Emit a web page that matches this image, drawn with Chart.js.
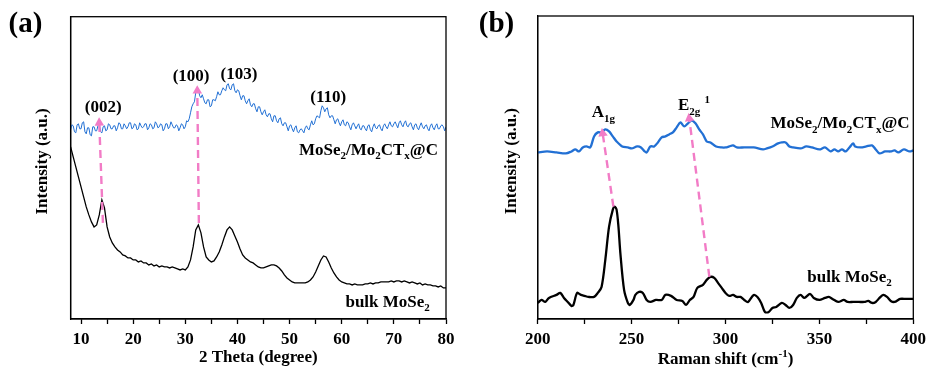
<!DOCTYPE html>
<html><head><meta charset="utf-8">
<script src="https://cdn.jsdelivr.net/npm/chart.js@4.4.1/dist/chart.umd.min.js"></script>
<style>
html,body{margin:0;padding:0;background:#fff;width:927px;height:372px;overflow:hidden}
#wa{position:absolute;left:0;top:0;width:463px;height:372px}
#wb{position:absolute;left:463px;top:0;width:464px;height:372px}
</style></head><body>
<div id="wa"><canvas id="ca" width="463" height="372"></canvas></div>
<div id="wb"><canvas id="cb" width="464" height="372"></canvas></div>
<script>
// ---------- DATA ----------
const xrdThetaFine = [
8,8.25,8.5,8.75,9,9.25,9.5,9.75,10,10.25,10.5,10.75,11,11.25,11.5,11.75,12,12.25,12.5,12.75,13,13.25,13.5,13.75,14,14.25,14.5,14.75,
15,15.25,15.5,15.75,16,16.25,16.5,16.75,17,17.25,17.5,17.75,18,18.25,18.5,18.75,19,19.25,19.5,19.75,20,20.25,20.5,20.75,21,21.25,21.5,21.75,
22,22.25,22.5,22.75,23,23.25,23.5,23.75,24,24.25,24.5,24.75,25,25.25,25.5,25.75,26,26.25,26.5,26.75,27,27.25,27.5,27.75,28,28.25,28.5,28.75,
29,29.25,29.5,29.75,30,30.25,30.5,30.75,31,31.25,31.5,31.75,32,32.25,32.5,32.75,33,33.25,33.5,33.75,34,34.25,34.5,34.75,35,35.25,35.5,35.75,
36,36.25,36.5,36.75,37,37.25,37.5,37.75,38,38.25,38.5,38.75,39,39.25,39.5,39.75,40,40.25,40.5,40.75,41,41.25,41.5,41.75,42,42.25,42.5,42.75,
43,43.25,43.5,43.75,44,44.25,44.5,44.75,45,45.25,45.5,45.75,46,46.25,46.5,46.75,47,47.25,47.5,47.75,48,48.25,48.5,48.75,49,49.25,49.5,49.75,
50,50.25,50.5,50.75,51,51.25,51.5,51.75,52,52.25,52.5,52.75,53,53.25,53.5,53.75,54,54.25,54.5,54.75,55,55.25,55.5,55.75,56,56.25,56.5,56.75,
57,57.25,57.5,57.75,58,58.25,58.5,58.75,59,59.25,59.5,59.75,60,60.25,60.5,60.75,61,61.25,61.5,61.75,62,62.25,62.5,62.75,63,63.25,63.5,63.75,
64,64.25,64.5,64.75,65,65.25,65.5,65.75,66,66.25,66.5,66.75,67,67.25,67.5,67.75,68,68.25,68.5,68.75,69,69.25,69.5,69.75,70,70.25,70.5,70.75,
71,71.25,71.5,71.75,72,72.25,72.5,72.75,73,73.25,73.5,73.75,74,74.25,74.5,74.75,75,75.25,75.5,75.75,76,76.25,76.5,76.75,77,77.25,77.5,77.75,
78,78.25,78.5,78.75,79,79.25,79.5,79.75,80];
const xrdComposite = [
189,194, 193,187, 186,194, 195,190, 190,196, 197,187, 185,191, 191,184, 183,192, 192,188,
188,193, 195,187, 186,192, 193,188, 189,195, 194,190, 190,193, 193,188, 191,196, 195,190,
190,195, 193,190, 192,196, 196,190, 191,195, 194,189, 190,196, 193,191, 192,195, 195,189,
191,195, 194,190, 191,197, 195,191, 192,195, 194,188, 190,195, 195,190, 192,197, 194,191,
191,194, 193,188, 191,195, 194,190, 192,198, 197,200, 206,212, 215,217, 226,231, 230,223,
221,224, 220,216, 215,219, 219,212, 213,219, 219,218, 222,227, 224,224, 228,231, 229,228,
234,235, 230,229, 234,235, 228,226, 229,228, 223,219, 223,223, 218,215, 218,220, 214,212,
215,215, 210,207, 212,212, 207,204, 207,209, 204,202, 205,205, 200,197, 203,203, 198,196,
200,201, 195,193, 196,196, 192,188, 193,194, 190,187, 191,193, 187,186, 189,190, 188,186,
191,193, 190,189, 194,198, 194,195, 200,203, 202,201, 208,213, 211,207, 210,211, 204,201,
203,203, 199,195, 199,200, 196,193, 197,199, 194,193, 197,196, 192,189, 194,196, 193,190,
193,195, 190,189, 193,193, 190,188, 193,194, 189,187, 192,195, 191,190, 193,194, 190,188,
193,195, 192,190, 194,197, 193,192, 195,197, 194,191, 196,198, 194,192, 196,198, 193,192,
195,196, 192,189, 194,195, 191,189, 193,196, 192,190, 193,194, 190,188, 193,195, 191,189,
193,195, 190,190, 193,194, 192,188, 192];

const xrdTheta = [8,8.5,9,9.5,10,10.5,11,11.5,12,12.5,13,13.5,14,14.5,15,15.5,16,16.5,17,17.5,18,18.5,19,19.5,20,20.5,21,21.5,22,22.5,23,23.5,24,24.5,25,25.5,26,26.5,27,27.5,28,28.5,29,29.5,30,30.5,31,31.5,32,32.5,33,33.5,34,34.5,35,35.5,36,36.5,37,37.5,38,38.5,39,39.5,40,40.5,41,41.5,42,42.5,43,43.5,44,44.5,45,45.5,46,46.5,47,47.5,48,48.5,49,49.5,50,50.5,51,51.5,52,52.5,53,53.5,54,54.5,55,55.5,56,56.5,57,57.5,58,58.5,59,59.5,60,60.5,61,61.5,62,62.5,63,63.5,64,64.5,65,65.5,66,66.5,67,67.5,68,68.5,69,69.5,70,70.5,71,71.5,72,72.5,73,73.5,74,74.5,75,75.5,76,76.5,77,77.5,78,78.5,79,79.5,80];
const xrdBulk = [172,162,152,142,132,122,112,104,97,92,94,104,119,111,92,82,76,72,69,67,64,63,61,61,59,59,57,58,56,56,54,55,53,54,52,53,52,52,51,52,51,50,49,50,49,52,59,72,89,94,86,72,62,59,57,58,62,67,74,82,89,92,89,83,77,70,64,61,59,57,56,54,52,51,51,52,53,54,54,53,51,48,44,41,39,37,36,36,36,36,36,37,39,42,47,53,59,63,62,57,51,46,42,39,37,36,35,35,34,35,34,34,34,35,35,36,35,36,36,37,37,37,37,38,37,38,38,37,38,37,36,37,36,35,36,34,35,34,34,33,33,32,33,31,31];

const ramanShiftComposite = [200,205,210,215,218,220,222,224,226,228,230,232,234,236,238,240,242,245,248,250,253,255,257,258,260,262,264,266,268,270,272,274,276,278,280,282,284,286,288,290,292,295,298,300,302,304,306,310,315,320,322,325,328,330,332,334,336,340,343,346,350,353,356,358,360,362,364,366,368,369,372,375,378,380,382,385,388,390,392,395,398,400];
const ramanComposite = [166,167,166,165,167,169,167,171,172,171,182,186,186,189,187,182,177,172,171,170,172,171,167,166,172,172,176,181,182,184,186,191,196,192,195,198,195,189,184,177,176,172,171,171,172,173,171,171,171,169,170,172,175,176,176,172,171,170,172,171,169,171,167,169,167,169,167,171,175,172,171,172,173,169,165,167,167,168,166,169,167,168];
const ramanShiftBulk = [200,202,204,206,210,212,214,216,218,219,221,223,225,227,230,232,234,236,238,240,241,242,243,244,246,248,249,251,252,254,256,258,260,263,266,268,271,274,277,279,281,283,285,288,290,292,294,296,298,300,302,304,306,308,310,312,315,317,319,321,323,325,327,330,332,334,336,338,340,342,345,347,350,353,355,357,360,363,365,368,371,374,376,378,380,382,384,386,388,390,393,396,400];
const ramanBulk = [16,19,17,21,24,26,21,17,13,14,26,24,23,22,22,26,32,59,92,109,112,109,92,66,29,16,14,19,24,27,26,19,17,19,19,24,23,19,18,14,19,22,31,34,39,42,41,36,31,26,23,24,22,22,19,17,24,22,16,7,7,11,12,16,14,11,14,21,24,21,25,21,19,21,22,20,17,19,17,17,17,17,18,16,17,21,24,22,18,17,20,20,20];

// arrows: [start, end] in data units
const xrdArrow002 = [{x:14.2,y:96},{x:13.5,y:196}];
const xrdArrow100 = [{x:32.6,y:96},{x:32.3,y:228}];
const ramanArrowA1g = [{x:240.3,y:112},{x:234.6,y:185}];
const ramanArrowE2g = [{x:291.4,y:42},{x:280.7,y:200}];

const xrdTicks = [10,20,30,40,50,60,70,80];
const ramanTicks = [200,250,300,350,400];

// ---------- STYLE ----------
const FAM = '"Liberation Serif","Times New Roman",serif';
const BLUE = '#2270d4', PINK = '#f27cc6', BLACK = '#000';
Chart.defaults.font.family = FAM;
Chart.defaults.font.weight = 'bold';
Chart.defaults.font.size = 17;
Chart.defaults.color = '#000';

function drawRich(ctx, parts, x, y, align, size) {
  const ss = Math.round(size * 0.66);
  let w = 0;
  parts.forEach(([t, m]) => { ctx.font = `bold ${m ? ss : size}px ${FAM}`; w += ctx.measureText(t).width; });
  let cx = align === 'right' ? x - w : align === 'center' ? x - w / 2 : x;
  ctx.textAlign = 'left'; ctx.textBaseline = 'alphabetic'; ctx.fillStyle = '#000';
  parts.forEach(([t, m]) => {
    ctx.font = `bold ${m ? ss : size}px ${FAM}`;
    const dy = m === 1 ? size * 0.25 : m === 2 ? -size * 0.42 : 0;
    ctx.fillText(t, cx, y + dy);
    cx += ctx.measureText(t).width;
  });
}

const annotPlugin = {
  id: 'annot',
  afterDraw(chart, args, opts) {
    const ctx = chart.ctx, a = chart.chartArea;
    ctx.save();
    ctx.strokeStyle = '#000'; ctx.lineWidth = 1.3;
    ctx.strokeRect(a.left, a.top, a.right - a.left, a.bottom - a.top);
    const xs = chart.scales.x, ys = chart.scales.y;
    (opts.labels || []).forEach(l => {
      drawRich(ctx, l.parts, xs.getPixelForValue(l.x), ys.getPixelForValue(l.y), l.align, 17);
    });
    if (opts.xTitle) {
      drawRich(ctx, opts.xTitle, (a.left + a.right) / 2, chart.height - 8, 'center', 17);
    }
    ctx.font = `bold 29px ${FAM}`; ctx.textAlign = 'center'; ctx.textBaseline = 'middle'; ctx.fillStyle = '#000';
    ctx.fillText(opts.panel, opts.panelX, 25);
    ctx.restore();
  }
};

function arrowDataset(pts) {
  return {
    data: pts, borderColor: PINK, backgroundColor: PINK, borderWidth: 2.4,
    borderDash: [8, 5], pointRadius: [0, 5.5], pointStyle: 'triangle',
    pointBackgroundColor: PINK, pointBorderColor: PINK, pointBorderWidth: 0,
    rotation: (c) => {
      const d = c.chart.data.datasets[c.datasetIndex].data;
      const xs = c.chart.scales.x, ys = c.chart.scales.y;
      const dx = xs.getPixelForValue(d[1].x) - xs.getPixelForValue(d[0].x);
      const dy = ys.getPixelForValue(d[1].y) - ys.getPixelForValue(d[0].y);
      return Math.atan2(dx, -dy) * 180 / Math.PI;
    }
  };
}

function xy(xs, ys) { return xs.map((x, i) => ({x, y: ys[i]})); }

function makeChart(id, cfg) {
  return new Chart(document.getElementById(id), {
    type: 'line',
    data: { datasets: cfg.datasets },
    plugins: [annotPlugin],
    options: {
      responsive: false, animation: false, parsing: false,
      layout: { padding: cfg.padding },
      plugins: { legend: { display: false }, tooltip: { enabled: false }, annot: cfg.annot },
      elements: { point: { radius: 0 } },
      scales: {
        x: {
          type: 'linear', min: cfg.xmin, max: cfg.xmax,
          afterFit: s => { s.height = 53; s.paddingLeft = 0; s.paddingRight = 0; },
          afterBuildTicks: s => {
            const t = [];
            for (let v = Math.ceil(cfg.xmin / cfg.minor) * cfg.minor; v <= cfg.xmax + 1e-9; v += cfg.minor) t.push({ value: v });
            s.ticks = t;
          },
          ticks: { padding: 5, maxRotation: 0, autoSkip: false,
            callback: v => cfg.labels.includes(v) ? String(v) : '' },
          grid: { drawOnChartArea: false, tickLength: 5, tickWidth: 1.3, tickColor: '#000' },
          border: { display: true, color: '#000', width: 1.3 },
          title: { display: !!cfg.xTitleText, text: cfg.xTitleText || '', padding: { top: 0, bottom: 4 } }
        },
        y: {
          min: 0, max: 302,
          afterFit: s => { s.width = cfg.yWidth; },
          ticks: { display: false },
          grid: { display: false, drawTicks: false },
          border: { display: true, color: '#000', width: 1.3 },
          title: { display: true, text: '   Intensity (a.u.)', padding: { top: 4, bottom: 0 } }
        }
      }
    }
  });
}

makeChart('ca', {
  xmin: 8, xmax: 80, minor: 5, labels: xrdTicks, yWidth: 41.8,
  padding: { left: 28.8, right: 17, top: 16.7, bottom: 0 },
  xTitleText: '2 Theta (degree)',
  datasets: [
    arrowDataset(xrdArrow002), arrowDataset(xrdArrow100),
    { data: xy(xrdThetaFine, xrdComposite), borderColor: BLUE, borderWidth: 1, tension: 0 },
    { data: xy(xrdTheta, xrdBulk), borderColor: BLACK, borderWidth: 1.3, tension: 0 }
  ],
  annot: {
    panel: '(a)', panelX: 25.5,
    labels: [
      { parts: [['(002)', 0]], x: 14.25, y: 207, align: 'center' },
      { parts: [['(100)', 0]], x: 31.1, y: 238, align: 'center' },
      { parts: [['(103)', 0]], x: 40.3, y: 240, align: 'center' },
      { parts: [['(110)', 0]], x: 57.4, y: 217, align: 'center' },
      { parts: [['MoSe', 0], ['2', 1], ['/Mo', 0], ['2', 1], ['CT', 0], ['x', 1], ['@C', 0]], x: 78.45, y: 164, align: 'right' },
      { parts: [['bulk MoSe', 0], ['2', 1]], x: 76.9, y: 12, align: 'right' }
    ]
  }
});

makeChart('cb', {
  xmin: 200, xmax: 400, minor: 25, labels: ramanTicks, yWidth: 40.4,
  padding: { left: 34.3, right: 13.7, top: 16, bottom: 0 },
  xTitleText: null,
  datasets: [
    arrowDataset(ramanArrowA1g), arrowDataset(ramanArrowE2g),
    { data: xy(ramanShiftComposite, ramanComposite), borderColor: BLUE, borderWidth: 2.3, tension: 0.3 },
    { data: xy(ramanShiftBulk, ramanBulk), borderColor: BLACK, borderWidth: 2.3, tension: 0.3 }
  ],
  annot: {
    panel: '(b)', panelX: 33.5,
    xTitle: [['Raman shift (cm', 0], ['-1', 2], [')', 0]],
    labels: [
      { parts: [['A', 0], ['1g', 1]], x: 228.8, y: 201, align: 'left' },
      { parts: [['E', 0], ['2g', 1], [' ', 0], ['1', 2]], x: 274.7, y: 208, align: 'left' },
      { parts: [['MoSe', 0], ['2', 1], ['/Mo', 0], ['2', 1], ['CT', 0], ['x', 1], ['@C', 0]], x: 398, y: 190, align: 'right' },
      { parts: [['bulk MoSe', 0], ['2', 1]], x: 388.5, y: 37, align: 'right' }
    ]
  }
});
</script>
</body></html>
